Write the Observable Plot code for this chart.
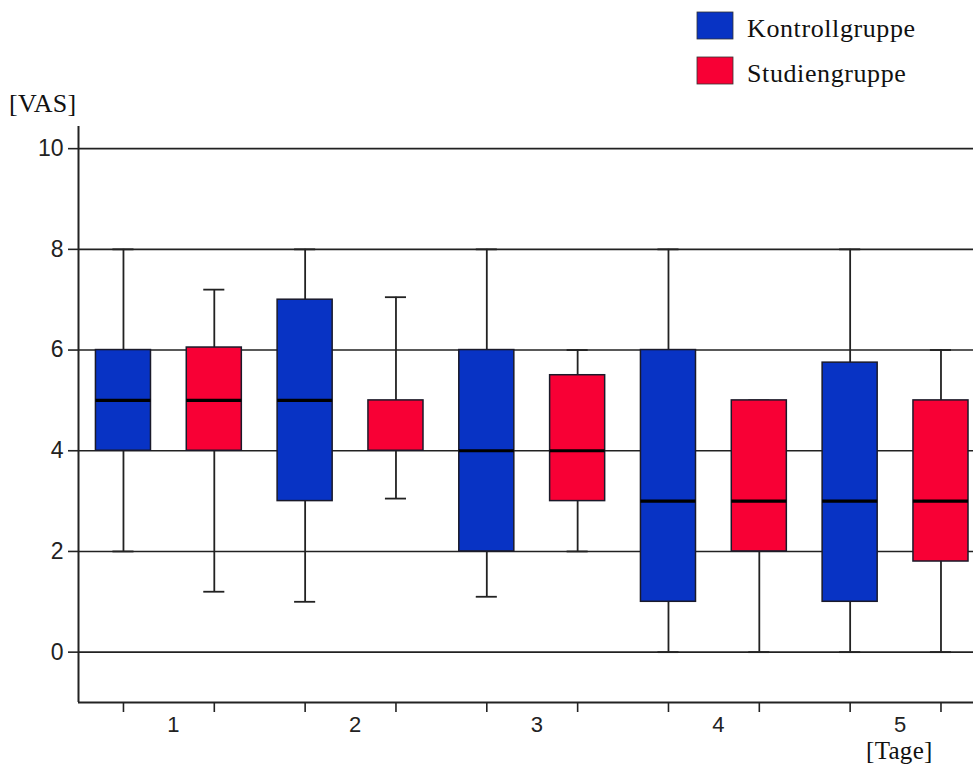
<!DOCTYPE html>
<html>
<head>
<meta charset="utf-8">
<script src="https://cdn.jsdelivr.net/npm/d3@7"></script>
<script src="https://cdn.jsdelivr.net/npm/@observablehq/plot@0.6"></script>
<style>
  html, body { margin: 0; padding: 0; background: #fff; overflow: hidden; }
  #wrap { position: relative; width: 973px; height: 766px; }
  #wrap > svg.overlay { position: absolute; left: 0; top: 0; pointer-events: none; }
  [aria-label^="y-axis"] line, [aria-label^="y-axis"] path,
  [aria-label^="x-axis"] line, [aria-label^="x-axis"] path { stroke-width: 1.6; }
</style>
</head>
<body>
<div id="wrap"></div>
<script>
// ---- data ----
const days = [1, 2, 3, 4, 5];
const dayLabels = ["1", "2", "3", "4", "5"];
const groups = ["Kontrollgruppe", "Studiengruppe"];
const groupColors = ["#0833c4", "#f80035"];
const yTicks = [0, 2, 4, 6, 8, 10];

// Kontrollgruppe
const kMin = [2, 1, 1.1, 0, 0];
const kQ1  = [4, 3, 2, 1, 1];
const kMed = [5, 5, 4, 3, 3];
const kQ3  = [6, 7, 6, 6, 5.75];
const kMax = [8, 8, 8, 8, 8];
// Studiengruppe
const sMin = [1.2, 3.05, 2, 0, 0];
const sQ1  = [4, 4, 3, 2, 1.8];
const sMed = [5, 5, 4, 3, 3];
const sQ3  = [6.05, 5, 5.5, 5, 5];
const sMax = [7.2, 7.05, 6, 5, 6];

const stats = [
  {min: kMin, q1: kQ1, med: kMed, q3: kQ3, max: kMax},
  {min: sMin, q1: sQ1, med: sMed, q3: sQ3, max: sMax}
];

const rows = [];
days.forEach((d, i) => {
  groups.forEach((g, j) => {
    const s = stats[j];
    rows.push({day: d, group: g, pos: 2 * (d - 1) + j + 1,
      min: s.min[i], q1: s.q1[i], med: s.med[i], q3: s.q3[i], max: s.max[i]});
  });
});
const positions = rows.map(r => r.pos);
const labelRows = days.map((d, i) => ({pos: 2 * d - 0.45, label: dayLabels[i], y: -1}));
// a median lying on a box edge is not drawn separately (as in the reference)
const medianRows = rows.filter(r => r.med > r.q1 && r.med < r.q3);

const boxHalf = 0.303, capHalf = 0.116;
const ink = "#222";

const chart = Plot.plot({
  width: 973,
  height: 766,
  marginLeft: 78,
  marginRight: 0,
  marginTop: 126,
  marginBottom: 64,
  x: {domain: [0.505, 10.358], ticks: positions, tickFormat: () => "", tickSize: 10, label: null},
  y: {domain: [-1, 10.44], ticks: yTicks, tickSize: 10, tickPadding: 5, label: null},
  color: {domain: groups, range: groupColors},
  style: {fontFamily: "'Liberation Sans', Arial, sans-serif", fontSize: "23px", color: ink, background: "white", overflow: "visible"},
  marks: [
    Plot.ruleY(yTicks, {stroke: ink, strokeWidth: 1.6}),
    Plot.ruleY([-1], {stroke: ink, strokeWidth: 2}),
    Plot.ruleX([0.505], {y1: -1, y2: 10.44, stroke: ink, strokeWidth: 2}),
    // whiskers
    Plot.ruleX(rows, {x: "pos", y1: "min", y2: "q1", stroke: ink, strokeWidth: 1.8}),
    Plot.ruleX(rows, {x: "pos", y1: "q3", y2: "max", stroke: ink, strokeWidth: 1.8}),
    // caps
    Plot.ruleY(rows, {y: "min", x1: d => d.pos - capHalf, x2: d => d.pos + capHalf, stroke: ink, strokeWidth: 1.8}),
    Plot.ruleY(rows, {y: "max", x1: d => d.pos - capHalf, x2: d => d.pos + capHalf, stroke: ink, strokeWidth: 1.8}),
    // boxes
    Plot.rect(rows, {x1: d => d.pos - boxHalf, x2: d => d.pos + boxHalf, y1: "q1", y2: "q3",
      fill: "group", stroke: "#1a1a2a", strokeWidth: 1.5}),
    // medians
    Plot.ruleY(medianRows, {y: "med", x1: d => d.pos - boxHalf, x2: d => d.pos + boxHalf, stroke: "#000", strokeWidth: 3.2}),
    // day labels
    Plot.text(labelRows, {x: "pos", y: "y", text: "label", dy: 22, fill: ink, fontSize: 22})
  ]
});
document.getElementById("wrap").appendChild(chart);

// ---- overlay texts / legend ----
const ns = "http://www.w3.org/2000/svg";
const ov = document.createElementNS(ns, "svg");
ov.setAttribute("class", "overlay");
ov.setAttribute("width", 973);
ov.setAttribute("height", 766);
const serif = "'Liberation Serif', 'Times New Roman', serif";
function addText(x, y, str, size, ls) {
  const t = document.createElementNS(ns, "text");
  t.setAttribute("x", x); t.setAttribute("y", y);
  t.setAttribute("font-family", serif);
  t.setAttribute("font-size", size);
  t.setAttribute("fill", "#111");
  if (ls) t.setAttribute("letter-spacing", ls);
  t.textContent = str;
  ov.appendChild(t);
}
function addRect(x, y, w, h, fill) {
  const r = document.createElementNS(ns, "rect");
  r.setAttribute("x", x); r.setAttribute("y", y);
  r.setAttribute("width", w); r.setAttribute("height", h);
  r.setAttribute("fill", fill);
  r.setAttribute("stroke", "#333"); r.setAttribute("stroke-width", 0.8);
  ov.appendChild(r);
}
groups.forEach((g, j) => {
  addRect(697, 12 + j * 45, 36, 27, groupColors[j]);
  addText(747, 37 + j * 45, g, 26, 0.6);
});
addText(9, 112, "[VAS]", 26, 0.3);
addText(866, 759, "[Tage]", 25, 0.3);
document.getElementById("wrap").appendChild(ov);
</script>
</body>
</html>
